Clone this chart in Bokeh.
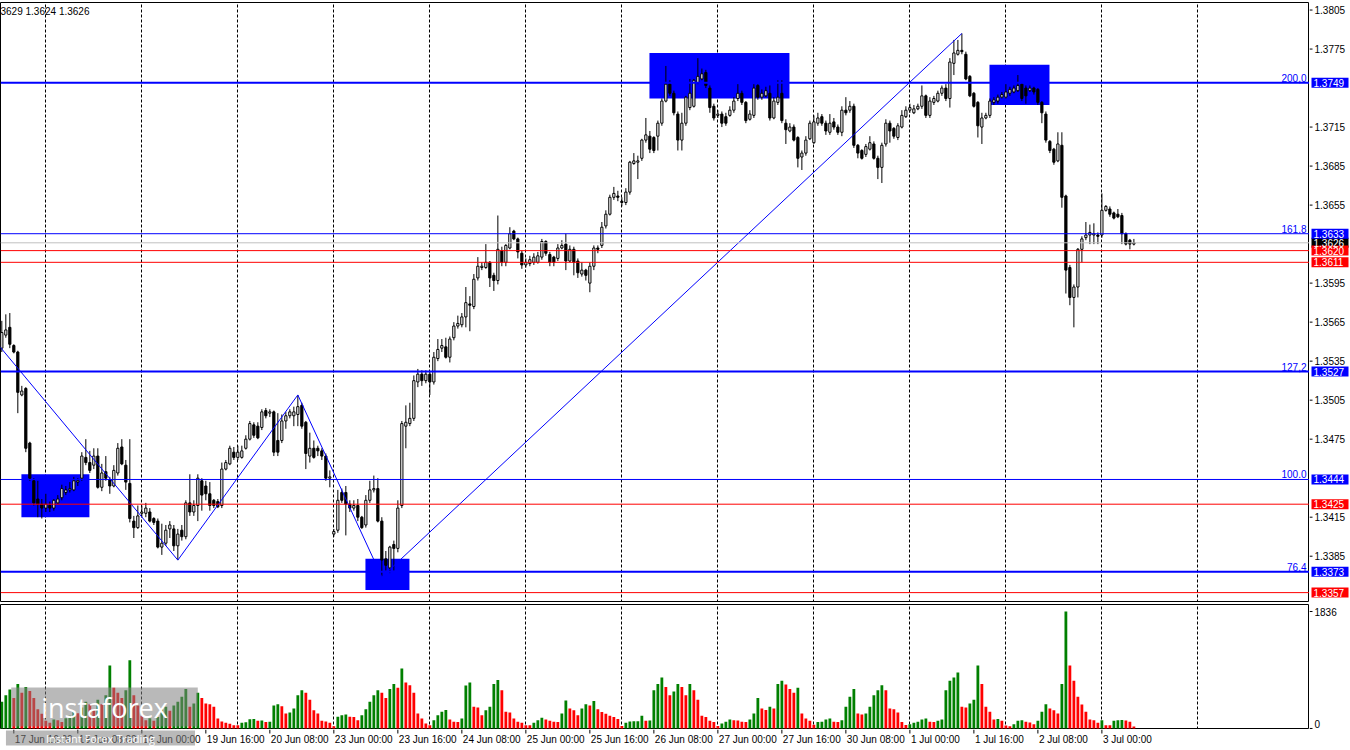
from bokeh.plotting import figure
from bokeh.layouts import column, row
from bokeh.models import Range1d, FixedTicker, Span, Label, ColumnDataSource, Grid, Spacer
from bokeh.core.properties import value
from bokeh.embed import file_html
from bokeh.resources import INLINE

# ---------------- data (H1 candles, 17 Jun 13:00 -> 3 Jul 08:00) ----------------
opens = [
 1.3545, 1.3555, 1.3561, 1.3547, 1.3542, 1.3509, 1.3514, 1.3472, 1.3443, 1.3429,
 1.3425, 1.3422, 1.3424, 1.3422, 1.3426, 1.3430, 1.3434, 1.3436, 1.3436, 1.3442,
 1.3445, 1.3461, 1.3457, 1.3455, 1.3462, 1.3438, 1.3450, 1.3444, 1.3439, 1.3449,
 1.3469, 1.3455, 1.3441, 1.3412, 1.3407, 1.3418, 1.3418, 1.3419, 1.3414, 1.3412,
 1.3392, 1.3395, 1.3406, 1.3406, 1.3393, 1.3405, 1.3400, 1.3426, 1.3419, 1.3424,
 1.3443, 1.3439, 1.3433, 1.3428, 1.3427, 1.3424, 1.3452, 1.3456, 1.3465, 1.3461,
 1.3461, 1.3468, 1.3475, 1.3486, 1.3485, 1.3484, 1.3497, 1.3495, 1.3496, 1.3474,
 1.3474, 1.3489, 1.3493, 1.3493, 1.3494, 1.3501, 1.3488, 1.3462, 1.3468, 1.3468,
 1.3466, 1.3462, 1.3445, 1.3402, 1.3405, 1.3434, 1.3434, 1.3425, 1.3422, 1.3424,
 1.3415, 1.3409, 1.3428, 1.3436, 1.3437, 1.3412, 1.3383, 1.3376, 1.3394, 1.3391,
 1.3424, 1.3485, 1.3487, 1.3491, 1.3519, 1.3525, 1.3520, 1.3525, 1.3519, 1.3537,
 1.3545, 1.3546, 1.3538, 1.3553, 1.3562, 1.3563, 1.3569, 1.3579, 1.3577, 1.3599,
 1.3607, 1.3607, 1.3611, 1.3601, 1.3597, 1.3620, 1.3611, 1.3622, 1.3635, 1.3629,
 1.3618, 1.3609, 1.3610, 1.3611, 1.3611, 1.3615, 1.3627, 1.3617, 1.3615, 1.3614,
 1.3622, 1.3625, 1.3612, 1.3621, 1.3612, 1.3602, 1.3605, 1.3595, 1.3608, 1.3622,
 1.3624, 1.3639, 1.3648, 1.3661, 1.3662, 1.3658, 1.3657, 1.3665, 1.3687, 1.3688,
 1.3691, 1.3705, 1.3708, 1.3707, 1.3708, 1.3718, 1.3735, 1.3748, 1.3741, 1.3725,
 1.3705, 1.3718, 1.3730, 1.3731, 1.3749, 1.3752, 1.3757, 1.3745, 1.3731, 1.3724,
 1.3725, 1.3723, 1.3724, 1.3728, 1.3737, 1.3741, 1.3734, 1.3721, 1.3724, 1.3747,
 1.3738, 1.3739, 1.3741, 1.3722, 1.3734, 1.3741, 1.3718, 1.3712, 1.3715, 1.3707,
 1.3692, 1.3695, 1.3706, 1.3703, 1.3718, 1.3723, 1.3718, 1.3711, 1.3719, 1.3715,
 1.3711, 1.3728, 1.3728, 1.3731, 1.3701, 1.3697, 1.3694, 1.3698, 1.3702, 1.3691,
 1.3684, 1.3702, 1.3718, 1.3714, 1.3707, 1.3715, 1.3723, 1.3728, 1.3726, 1.3729,
 1.3731, 1.3739, 1.3724, 1.3734, 1.3735, 1.3741, 1.3745, 1.3737, 1.3764, 1.3771,
 1.3774, 1.3771, 1.3754, 1.3741, 1.3734, 1.3715, 1.3722, 1.3724, 1.3734, 1.3735,
 1.3738, 1.3738, 1.3741, 1.3742, 1.3743, 1.3748, 1.3745, 1.3743, 1.3745, 1.3744,
 1.3734, 1.3725, 1.3704, 1.3698, 1.3689, 1.3701, 1.3662, 1.3607, 1.3584, 1.3592,
 1.3621, 1.3630, 1.3632, 1.3632, 1.3632, 1.3632, 1.3651, 1.3652, 1.3649, 1.3648,
 1.3647, 1.3633, 1.3628, 1.3625]
highs = [
 1.3566, 1.3571, 1.3572, 1.3548, 1.3543, 1.3516, 1.3515, 1.3473, 1.3445, 1.3443,
 1.3429, 1.3433, 1.3427, 1.3429, 1.3432, 1.3440, 1.3439, 1.3442, 1.3446, 1.3445,
 1.3465, 1.3475, 1.3466, 1.3468, 1.3468, 1.3456, 1.3462, 1.3446, 1.3455, 1.3472,
 1.3475, 1.3459, 1.3475, 1.3416, 1.3424, 1.3424, 1.3426, 1.3422, 1.3415, 1.3414,
 1.3410, 1.3409, 1.3412, 1.3409, 1.3406, 1.3409, 1.3428, 1.3448, 1.3428, 1.3448,
 1.3445, 1.3443, 1.3442, 1.3429, 1.3429, 1.3457, 1.3459, 1.3470, 1.3469, 1.3470,
 1.3470, 1.3478, 1.3489, 1.3488, 1.3488, 1.3498, 1.3499, 1.3498, 1.3497, 1.3495,
 1.3494, 1.3496, 1.3498, 1.3500, 1.3509, 1.3503, 1.3489, 1.3480, 1.3474, 1.3470,
 1.3468, 1.3464, 1.3451, 1.3406, 1.3436, 1.3437, 1.3439, 1.3428, 1.3428, 1.3429,
 1.3416, 1.3432, 1.3443, 1.3447, 1.3445, 1.3415, 1.3389, 1.3393, 1.3397, 1.3428,
 1.3489, 1.3501, 1.3503, 1.3524, 1.3529, 1.3528, 1.3528, 1.3527, 1.3542, 1.3552,
 1.3552, 1.3553, 1.3554, 1.3565, 1.3570, 1.3572, 1.3592, 1.3585, 1.3602, 1.3615,
 1.3611, 1.3625, 1.3612, 1.3603, 1.3647, 1.3623, 1.3625, 1.3638, 1.3636, 1.3630,
 1.3620, 1.3614, 1.3616, 1.3618, 1.3619, 1.3629, 1.3628, 1.3619, 1.3616, 1.3625,
 1.3628, 1.3633, 1.3624, 1.3623, 1.3614, 1.3611, 1.3606, 1.3611, 1.3624, 1.3624,
 1.3642, 1.3651, 1.3663, 1.3669, 1.3666, 1.3661, 1.3668, 1.3689, 1.3695, 1.3693,
 1.3706, 1.3722, 1.3712, 1.3708, 1.3720, 1.3737, 1.3762, 1.3751, 1.3743, 1.3727,
 1.3726, 1.3739, 1.3752, 1.3752, 1.3768, 1.3760, 1.3759, 1.3747, 1.3733, 1.3728,
 1.3727, 1.3726, 1.3731, 1.3738, 1.3748, 1.3743, 1.3735, 1.3728, 1.3748, 1.3748,
 1.3744, 1.3746, 1.3747, 1.3738, 1.3751, 1.3751, 1.3721, 1.3718, 1.3717, 1.3708,
 1.3697, 1.3708, 1.3720, 1.3724, 1.3726, 1.3725, 1.3720, 1.3725, 1.3722, 1.3717,
 1.3731, 1.3738, 1.3735, 1.3733, 1.3702, 1.3698, 1.3702, 1.3708, 1.3704, 1.3693,
 1.3703, 1.3721, 1.3720, 1.3715, 1.3718, 1.3728, 1.3731, 1.3733, 1.3732, 1.3733,
 1.3747, 1.3740, 1.3738, 1.3739, 1.3743, 1.3747, 1.3748, 1.3768, 1.3782, 1.3782,
 1.3787, 1.3773, 1.3755, 1.3742, 1.3735, 1.3726, 1.3726, 1.3737, 1.3738, 1.3740,
 1.3742, 1.3748, 1.3746, 1.3747, 1.3755, 1.3749, 1.3747, 1.3747, 1.3746, 1.3745,
 1.3735, 1.3727, 1.3705, 1.3699, 1.3711, 1.3711, 1.3663, 1.3609, 1.3594, 1.3622,
 1.3631, 1.3642, 1.3640, 1.3641, 1.3634, 1.3664, 1.3655, 1.3654, 1.3650, 1.3652,
 1.3649, 1.3634, 1.3629, 1.3629]
lows = [
 1.3542, 1.3553, 1.3545, 1.3541, 1.3495, 1.3508, 1.3465, 1.3443, 1.3424, 1.3415,
 1.3414, 1.3419, 1.3419, 1.3420, 1.3425, 1.3428, 1.3432, 1.3434, 1.3435, 1.3439,
 1.3443, 1.3455, 1.3449, 1.3452, 1.3437, 1.3435, 1.3443, 1.3433, 1.3438, 1.3447,
 1.3455, 1.3436, 1.3411, 1.3399, 1.3406, 1.3415, 1.3415, 1.3411, 1.3409, 1.3391,
 1.3386, 1.3393, 1.3399, 1.3389, 1.3382, 1.3397, 1.3398, 1.3416, 1.3416, 1.3412,
 1.3420, 1.3428, 1.3420, 1.3422, 1.3422, 1.3422, 1.3451, 1.3455, 1.3459, 1.3459,
 1.3460, 1.3467, 1.3474, 1.3476, 1.3475, 1.3482, 1.3491, 1.3492, 1.3462, 1.3462,
 1.3472, 1.3483, 1.3491, 1.3485, 1.3485, 1.3483, 1.3452, 1.3457, 1.3460, 1.3462,
 1.3459, 1.3443, 1.3438, 1.3400, 1.3403, 1.3426, 1.3401, 1.3419, 1.3420, 1.3412,
 1.3406, 1.3407, 1.3426, 1.3434, 1.3411, 1.3369, 1.3374, 1.3372, 1.3374, 1.3388,
 1.3422, 1.3468, 1.3485, 1.3489, 1.3515, 1.3516, 1.3518, 1.3509, 1.3517, 1.3535,
 1.3542, 1.3537, 1.3534, 1.3551, 1.3560, 1.3561, 1.3561, 1.3558, 1.3575, 1.3597,
 1.3605, 1.3606, 1.3592, 1.3589, 1.3594, 1.3608, 1.3608, 1.3621, 1.3628, 1.3614,
 1.3606, 1.3607, 1.3608, 1.3609, 1.3610, 1.3613, 1.3616, 1.3608, 1.3608, 1.3612,
 1.3621, 1.3605, 1.3611, 1.3601, 1.3599, 1.3600, 1.3597, 1.3588, 1.3605, 1.3618,
 1.3622, 1.3637, 1.3647, 1.3659, 1.3658, 1.3654, 1.3655, 1.3663, 1.3686, 1.3675,
 1.3689, 1.3703, 1.3695, 1.3695, 1.3697, 1.3716, 1.3734, 1.3739, 1.3724, 1.3697,
 1.3697, 1.3716, 1.3728, 1.3730, 1.3748, 1.3751, 1.3745, 1.3726, 1.3720, 1.3722,
 1.3715, 1.3716, 1.3723, 1.3726, 1.3735, 1.3732, 1.3718, 1.3720, 1.3722, 1.3736,
 1.3736, 1.3738, 1.3720, 1.3721, 1.3732, 1.3718, 1.3702, 1.3711, 1.3704, 1.3684,
 1.3682, 1.3693, 1.3705, 1.3702, 1.3716, 1.3716, 1.3709, 1.3709, 1.3713, 1.3709,
 1.3708, 1.3724, 1.3726, 1.3699, 1.3691, 1.3690, 1.3692, 1.3697, 1.3690, 1.3675,
 1.3672, 1.3700, 1.3703, 1.3706, 1.3705, 1.3714, 1.3722, 1.3726, 1.3725, 1.3728,
 1.3729, 1.3722, 1.3722, 1.3732, 1.3734, 1.3739, 1.3735, 1.3730, 1.3755, 1.3770,
 1.3771, 1.3751, 1.3738, 1.3730, 1.3707, 1.3702, 1.3721, 1.3722, 1.3732, 1.3733,
 1.3737, 1.3737, 1.3739, 1.3741, 1.3742, 1.3735, 1.3733, 1.3742, 1.3740, 1.3732,
 1.3718, 1.3703, 1.3695, 1.3686, 1.3688, 1.3653, 1.3587, 1.3578, 1.3561, 1.3584,
 1.3611, 1.3628, 1.3625, 1.3625, 1.3625, 1.3630, 1.3650, 1.3646, 1.3644, 1.3645,
 1.3625, 1.3624, 1.3621, 1.3624]
closes = [
 1.3557, 1.3559, 1.3548, 1.3542, 1.3511, 1.3512, 1.3468, 1.3445, 1.3426, 1.3425,
 1.3422, 1.3425, 1.3422, 1.3428, 1.3429, 1.3437, 1.3436, 1.3437, 1.3443, 1.3443,
 1.3462, 1.3457, 1.3451, 1.3462, 1.3438, 1.3449, 1.3445, 1.3439, 1.3451, 1.3468,
 1.3456, 1.3442, 1.3414, 1.3407, 1.3416, 1.3419, 1.3422, 1.3412, 1.3411, 1.3392,
 1.3395, 1.3405, 1.3409, 1.3393, 1.3402, 1.3400, 1.3426, 1.3419, 1.3424, 1.3445,
 1.3432, 1.3433, 1.3424, 1.3424, 1.3423, 1.3452, 1.3457, 1.3468, 1.3461, 1.3465,
 1.3466, 1.3475, 1.3487, 1.3478, 1.3476, 1.3496, 1.3493, 1.3496, 1.3465, 1.3465,
 1.3489, 1.3493, 1.3496, 1.3496, 1.3500, 1.3485, 1.3464, 1.3468, 1.3461, 1.3466,
 1.3462, 1.3445, 1.3446, 1.3404, 1.3428, 1.3428, 1.3425, 1.3422, 1.3424, 1.3415,
 1.3407, 1.3428, 1.3436, 1.3437, 1.3412, 1.3382, 1.3378, 1.3392, 1.3391, 1.3422,
 1.3487, 1.3488, 1.3491, 1.3520, 1.3525, 1.3520, 1.3525, 1.3519, 1.3538, 1.3544,
 1.3547, 1.3538, 1.3552, 1.3562, 1.3564, 1.3569, 1.3580, 1.3578, 1.3598, 1.3608,
 1.3608, 1.3611, 1.3599, 1.3597, 1.3621, 1.3611, 1.3624, 1.3633, 1.3629, 1.3619,
 1.3609, 1.3611, 1.3613, 1.3615, 1.3616, 1.3627, 1.3618, 1.3611, 1.3611, 1.3622,
 1.3624, 1.3612, 1.3621, 1.3611, 1.3603, 1.3605, 1.3601, 1.3608, 1.3622, 1.3621,
 1.3638, 1.3648, 1.3661, 1.3664, 1.3661, 1.3657, 1.3665, 1.3688, 1.3689, 1.3689,
 1.3705, 1.3709, 1.3698, 1.3697, 1.3718, 1.3735, 1.3748, 1.3741, 1.3726, 1.3705,
 1.3718, 1.3738, 1.3741, 1.3751, 1.3754, 1.3756, 1.3747, 1.3730, 1.3722, 1.3725,
 1.3718, 1.3718, 1.3728, 1.3735, 1.3741, 1.3734, 1.3720, 1.3725, 1.3745, 1.3738,
 1.3741, 1.3743, 1.3722, 1.3735, 1.3738, 1.3720, 1.3713, 1.3715, 1.3705, 1.3691,
 1.3695, 1.3705, 1.3718, 1.3719, 1.3722, 1.3718, 1.3712, 1.3718, 1.3715, 1.3711,
 1.3728, 1.3726, 1.3731, 1.3701, 1.3695, 1.3691, 1.3700, 1.3703, 1.3691, 1.3684,
 1.3701, 1.3718, 1.3712, 1.3708, 1.3716, 1.3724, 1.3728, 1.3730, 1.3729, 1.3731,
 1.3739, 1.3724, 1.3735, 1.3737, 1.3741, 1.3745, 1.3737, 1.3765, 1.3772, 1.3774,
 1.3773, 1.3752, 1.3739, 1.3731, 1.3716, 1.3722, 1.3724, 1.3735, 1.3736, 1.3738,
 1.3740, 1.3742, 1.3744, 1.3745, 1.3747, 1.3737, 1.3739, 1.3745, 1.3742, 1.3734,
 1.3726, 1.3705, 1.3697, 1.3688, 1.3702, 1.3661, 1.3605, 1.3584, 1.3592, 1.3621,
 1.3629, 1.3632, 1.3634, 1.3633, 1.3631, 1.3651, 1.3654, 1.3648, 1.3645, 1.3646,
 1.3633, 1.3625, 1.3625, 1.3626]
volumes = [
 420, 520, 610, 480, 700, 560, 650, 590, 480, 300, 230,
 120, 90, 140, 130, 100, 160, 200, 260, 240, 330, 420, 380, 300,
 450, 380, 520, 990, 640, 560, 480, 600, 1070, 520, 360,
 200, 130, 160, 120, 180, 300, 340, 280, 360, 420,
 500, 620, 340, 393, 560, 480, 393, 380, 340, 157, 110, 88, 75, 52,
 50, 88, 98, 145, 150, 120, 125, 100, 105, 360, 380, 350, 236, 250, 314, 520, 600, 560, 450, 288, 236, 120, 110, 88,
 36, 183, 209, 220, 183, 180, 130, 209,
 300, 420, 520, 600, 560, 480, 620, 700, 640, 940, 720, 680, 560,
 236, 157, 80, 52, 130, 209, 262, 290,
 141, 104, 100, 157,
 675, 720, 340, 330, 209, 288, 340, 700, 760, 600, 262, 250, 157, 104, 88, 52, 50,
 88, 130, 170, 141, 120, 104, 100, 236, 440, 314, 288, 209, 314, 380, 360, 430, 300, 260, 230, 200, 180, 150, 40,
 88, 110, 112, 115, 200, 120, 125, 600, 700, 800, 650, 520, 580, 700, 650, 520, 700, 600, 450, 200, 180, 120, 100, 40,
 80, 104, 141, 130, 125, 104, 100, 141, 236,
 480, 314, 290, 340, 314, 700, 750, 690, 620, 560, 640, 236, 157, 120, 60, 100, 105, 141, 157, 104, 100, 130, 340, 500,
 620, 236, 220, 236, 340, 520, 600, 680, 600, 314, 300, 250,
 100, 55, 68, 88, 104, 141, 157, 104, 100, 120, 141, 600, 750, 800, 880, 340, 330, 393, 450, 990, 700, 340, 262, 141,
 150, 120, 45, 36, 68, 120, 130, 104, 95, 68, 120, 262, 380, 314, 288, 236, 700, 1836, 990, 750, 500, 375, 262, 141,
 130, 88, 130, 52, 50, 120, 130, 135, 125, 104, 30]

time_labels = ["17 Jun 16:00", "18 Jun 08:00", "19 Jun 00:00", "19 Jun 16:00", "20 Jun 08:00",
               "23 Jun 00:00", "23 Jun 16:00", "24 Jun 08:00", "25 Jun 00:00", "25 Jun 16:00",
               "26 Jun 08:00", "27 Jun 00:00", "27 Jun 16:00", "30 Jun 08:00", "1 Jul 00:00",
               "1 Jul 16:00", "2 Jul 08:00", "3 Jul 00:00"]
time_label_bars = [3, 19, 35, 51, 67, 83, 99, 115, 131, 147, 163, 179, 195, 211, 227, 243, 259, 275]
day_start_bars = [11, 35, 59, 83, 107, 131, 155, 179, 203, 227, 251, 275, 299]

price_ticks = [1.3805, 1.3775, 1.3715, 1.3685, 1.3655, 1.3595, 1.3565, 1.3535,
               1.3505, 1.3475, 1.3415, 1.3385]
volume_ticks = [1836, 0]

fibo_levels = [1.3749, 1.3633, 1.3527, 1.3444, 1.3373]
fibo_texts = ["200,0", "161.8", "127,2", "100.0", "76.4"]
fibo_widths = [2, 1, 2, 1, 2]
red_levels = [1.3620, 1.3611, 1.3425, 1.3357]
bid_level = 1.3626
header_text = "3629 1.3624 1.3626"
watermark_texts = ["instaforex", "Instant Forex Trading"]

zigzag_bars = [-1, 44, 74, 95, 240]
zigzag_prices = [1.3548, 1.3382, 1.3509, 1.3369, 1.3787]

zone_left = [4.9, 90.9, 161.9, 246.9]
zone_right = [21.9, 101.9, 196.9, 261.9]
zone_top = [1.3448, 1.3383, 1.3772, 1.3763]
zone_bottom = [1.3415, 1.3359, 1.3737, 1.3732]

# ---------------- build ----------------
n = min(len(opens), len(highs), len(lows), len(closes), len(volumes))
xs = list(range(n))
body_top = [max(opens[i], closes[i]) for i in range(n)]
body_bot = [min(opens[i], closes[i]) for i in range(n)]
body_col = ["white" if closes[i] > opens[i] else "black" for i in range(n)]
vol_col = ["#008000" if (i == 0 or volumes[i] > volumes[i - 1]) else "#FF0000" for i in range(n)]

FONT = "Liberation Sans"
MAIN_W = 1309
SCALE_W = 40
XR = Range1d(-0.33, 326.9)
PR = Range1d(1.33494, 1.38108)
VR = Range1d(-16, 1946)


def base_fig(w, h, xr, yr, top=0):
    f = figure(width=w, height=h, x_range=xr, y_range=yr, output_backend="svg",
               toolbar_location=None, x_axis_location=None, y_axis_location=None,
               min_border=0, min_border_left=0, min_border_right=0,
               min_border_top=top, min_border_bottom=0)
    f.grid.visible = False
    f.background_fill_color = "white"
    f.border_fill_color = "white"
    f.outline_line_color = None
    return f


def day_grid():
    return Grid(dimension=0, ticker=FixedTicker(ticks=day_start_bars),
                grid_line_color="black", grid_line_dash="3 2", grid_line_width=1)


# ---- price panel ----
p = base_fig(MAIN_W, 602, XR, PR, top=2)
p.outline_line_color = "black"
p.add_layout(day_grid())
p.quad(left=zone_left, right=zone_right, top=zone_top, bottom=zone_bottom,
       fill_color="#0000FF", line_color=None)
src = ColumnDataSource(dict(x=xs, o=opens[:n], h=highs[:n], l=lows[:n], c=closes[:n],
                            bt=body_top, bb=body_bot, col=body_col))
p.segment(x0="x", y0="l", x1="x", y1="h", source=src, line_color="black", line_width=1)
p.vbar(x="x", width=0.55, top="bt", bottom="bb", source=src, fill_color="col",
       line_color="black", line_width=1)
p.line(zigzag_bars, zigzag_prices, line_color="#0000FF", line_width=1)
for lv, lw in zip(fibo_levels, fibo_widths):
    p.add_layout(Span(location=lv, dimension="width", line_color="#0000FF", line_width=lw))
for lv in red_levels:
    p.add_layout(Span(location=lv, dimension="width", line_color="#FF0000", line_width=1))
p.add_layout(Span(location=bid_level, dimension="width", line_color="#C0C0C0", line_width=1))
for lv, t in zip(fibo_levels, fibo_texts):
    p.add_layout(Label(x=XR.end, y=lv, x_offset=-3, y_offset=1, text=t, text_align="right",
                       text_baseline="bottom", text_color="#0000FF", text_font=FONT,
                       text_font_size="10px"))
p.add_layout(Label(x=XR.start, y=PR.end, x_offset=0, y_offset=-3, text=header_text,
                   text_align="left", text_baseline="top", text_color="black",
                   text_font=FONT, text_font_size="10px"))

# ---- price scale (right) ----
ps = base_fig(SCALE_W, 602, Range1d(0, SCALE_W), PR, top=2)
ps.segment(x0=0, x1=3, y0=price_ticks, y1=price_ticks, line_color="black", line_width=1)
ps.text(x=5, y=price_ticks, text=[f"{t:.4f}" for t in price_ticks], text_baseline="middle",
        text_align="left", text_font=value(FONT), text_font_size="10px", text_color="black")
box_levels = [bid_level] + fibo_levels + red_levels
box_colors = ["black"] + ["#0000FF"] * len(fibo_levels) + ["#FF0000"] * len(red_levels)
ps.rect(x=20.5, y=box_levels, width=37, height=10, height_units="screen",
        fill_color=box_colors, line_color=None)
ps.text(x=4, y=box_levels, text=[f"{lv:.4f}" for lv in box_levels], text_baseline="middle",
        text_align="left", text_font=value(FONT), text_font_size="10px", text_color="white")

# ---- volume panel ----
v = base_fig(MAIN_W, 127, XR, VR, top=2)
v.outline_line_color = "black"
v.add_layout(day_grid())
vsrc = ColumnDataSource(dict(x=xs, v=volumes[:n], col=vol_col))
v.vbar(x="x", width=0.7, top="v", bottom=0, source=vsrc, fill_color="col", line_color=None)
v.add_layout(Label(x=104, y=3, x_units="screen", y_units="screen", text=watermark_texts[0],
                   text_align="center", text_baseline="bottom", text_color="white",
                   text_font="Open Sans", text_font_size="27px",
                   background_fill_color="#808080", background_fill_alpha=0.55,
                   padding=(30, 1)))

vs = base_fig(SCALE_W, 127, Range1d(0, SCALE_W), VR, top=2)
vs.segment(x0=0, x1=3, y0=volume_ticks, y1=volume_ticks, line_color="black", line_width=1)
vs.text(x=5, y=volume_ticks, text=[str(t) for t in volume_ticks], text_baseline=["middle", "bottom"],
        text_align="left", text_font=value(FONT), text_font_size="10px", text_color="black")

# ---- time axis ----
ta = base_fig(MAIN_W, 19, XR, Range1d(0, 19), top=0)
ta.segment(x0=time_label_bars, x1=time_label_bars, y0=19, y1=15, line_color="black", line_width=1)
ta.text(x=time_label_bars, y=15, text=time_labels, x_offset=1, text_baseline="top",
        text_align="left", text_font=value(FONT), text_font_size="10px", text_color="black")
ta.add_layout(Label(x=100, y=3, x_units="screen", y_units="screen",
                    text=watermark_texts[1], text_align="center", text_baseline="bottom",
                    text_color="white", text_font="Open Sans", text_font_size="11px",
                    background_fill_color="#808080", background_fill_alpha=0.55,
                    padding=(40, 0)))

layout = column(row(p, ps), row(v, vs), row(ta, Spacer(width=SCALE_W, height=19)))
open("out.html", "w").write(file_html(layout, INLINE))
